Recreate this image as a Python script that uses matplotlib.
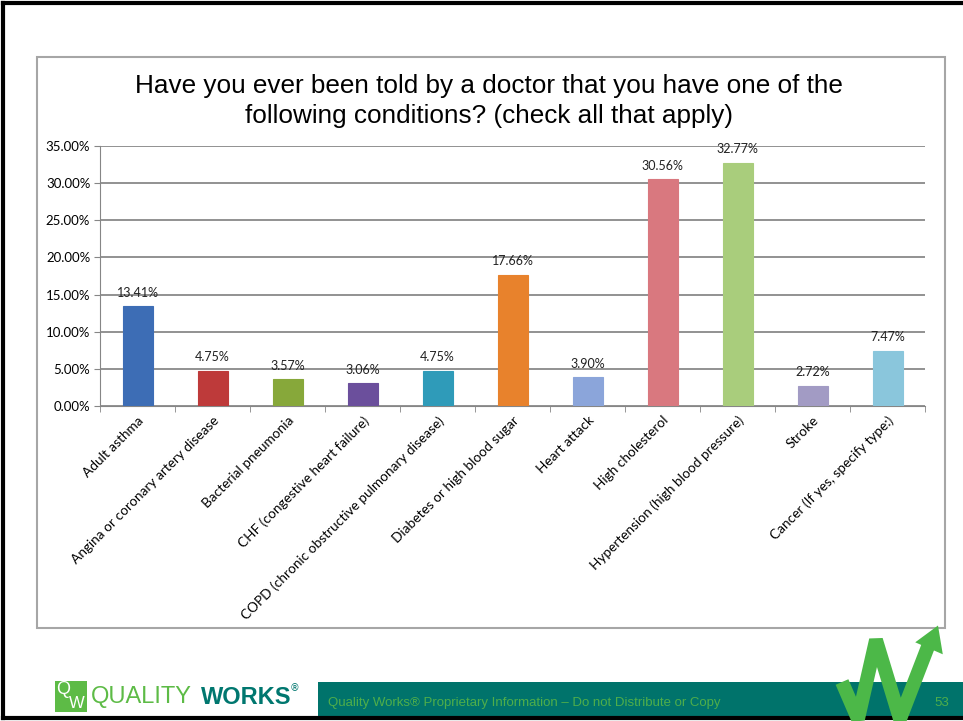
import matplotlib.pyplot as plt
from matplotlib.patches import Rectangle, Polygon
from matplotlib.ticker import FuncFormatter, MultipleLocator, FixedLocator
import numpy as np

conditions = ['Adult asthma',
              'Angina or coronary artery disease',
              'Bacterial pneumonia',
              'CHF (congestive heart failure)',
              'COPD (chronic obstructive pulmonary disease)',
              'Diabetes or high blood sugar',
              'Heart attack',
              'High cholesterol',
              'Hypertension (high blood pressure)',
              'Stroke',
              'Cancer (If yes, specify type:)']
percents = [13.41, 4.75, 3.57, 3.06, 4.75, 17.66, 3.90, 30.56, 32.77, 2.72, 7.47]
bar_colors = ['#3d6db5', '#be3a3a', '#87a83a', '#6b4f9c', '#2f9bb9', '#e8822c',
              '#8ba5da', '#d9787f', '#a9cd7c', '#a29bc4', '#8ac6dc']

title = 'Have you ever been told by a doctor that you have one of the\nfollowing conditions? (check all that apply)'
footer = 'Quality Works\u00ae Proprietary Information \u2013 Do not Distribute or Copy'
page_no = '53'

W, H = 963, 721
fig = plt.figure(figsize=(W / 100, H / 100), dpi=100)
fig.patch.set_facecolor('white')


def px(x, y):
    # pixel coords (top-left origin) -> figure fraction
    return x / W, 1 - y / H


# slide frame (left, top, bottom)
frame = fig.add_axes([0, 0, 1, 1])
frame.set_xlim(0, W)
frame.set_ylim(H, 0)
frame.axis('off')
frame.plot([3, 3], [3, 718], color='black', lw=3)
frame.plot([3, W], [3, 3], color='black', lw=3)
frame.plot([3, W], [718, 718], color='black', lw=3)

# chart box
frame.add_patch(Rectangle((37, 57), 908, 571, facecolor='white', edgecolor='#a6a6a6', lw=1.5))

# footer
frame.add_patch(Rectangle((318, 682), W - 318, 36, facecolor='#00736b', edgecolor='none'))
frame.text(328, 703, footer, color='#4fae4a', fontsize=9.5, va='center', ha='left',
           family='Liberation Sans')
frame.text(934, 703, page_no, color='#4fae4a', fontsize=9.5, va='center', ha='left',
           family='Liberation Sans')

# W logo with arrow
w_pts = np.array([[842, 682], [858, 719], [876, 640], [900, 719], [929, 644]])
frame.plot(w_pts[:, 0], w_pts[:, 1], color='#4cb848', lw=10, solid_joinstyle='bevel',
           solid_capstyle='butt')
frame.add_patch(Polygon([[918, 642], [937, 628], [941, 652]], closed=True,
                        facecolor='#4cb848', edgecolor='#4cb848', lw=2))

# Quality Works logo
frame.add_patch(Rectangle((55, 681), 32, 31, facecolor='#5dbb46', edgecolor='none'))
frame.text(63, 690, 'Q', color='white', fontsize=13, ha='center', va='center',
           family='Liberation Sans')
frame.text(77, 704, 'W', color='white', fontsize=12, ha='center', va='center',
           family='Liberation Sans')
frame.text(91, 697, 'QUALITY', color='#5dbb46', fontsize=17, ha='left', va='center',
           family='Liberation Sans')
frame.text(201, 697, 'WORKS', color='#00776f', fontsize=17, ha='left', va='center',
           fontweight='bold', family='Liberation Sans')
frame.text(290, 688, '\u00ae', color='#00776f', fontsize=7, ha='left', va='center')

# title
frame.text(489, 101, title, fontsize=18.8, ha='center', va='center', linespacing=1.35,
           family='Liberation Sans', color='black')

# chart axes
l, t = px(100, 146)
r, b = px(925, 406)
ax = fig.add_axes([l, b, r - l, t - b])
x = np.arange(len(conditions))
ax.bar(x, percents, width=0.4, color=bar_colors, edgecolor=bar_colors, lw=0.8, zorder=3)
for xi, v in zip(x, percents):
    ax.text(xi, v + 1.0, f'{v:.2f}%', ha='center', va='bottom', fontsize=9,
            family='Lato', color='#222222', zorder=4)

ax.set_xlim(-0.5, len(conditions) - 0.5)
ax.set_ylim(0, 35)
ax.yaxis.set_major_locator(MultipleLocator(5))
ax.yaxis.set_major_formatter(FuncFormatter(lambda v, p: f'{v:.2f}%'))
ax.grid(axis='y', color='#7f7f7f', lw=1.2, zorder=0)
ax.set_axisbelow(True)
for s in ['top', 'right']:
    ax.spines[s].set_visible(False)
ax.spines['left'].set_color('#868686')
ax.spines['bottom'].set_color('#868686')
ax.tick_params(axis='y', direction='out', length=4, color='#868686', labelsize=9.5,
               pad=3)
ax.set_xticks(x)
ax.set_xticklabels(conditions, rotation=45, ha='right', rotation_mode='anchor',
                   fontsize=9.8, family='Lato')
ax.tick_params(axis='x', length=0, pad=6)
ax.xaxis.set_minor_locator(FixedLocator(np.arange(-0.5, len(conditions), 1)))
ax.tick_params(axis='x', which='minor', direction='out', length=4, color='#868686')
for lab in ax.get_yticklabels():
    lab.set_family('Lato')

fig.savefig('out.png', dpi=100)
